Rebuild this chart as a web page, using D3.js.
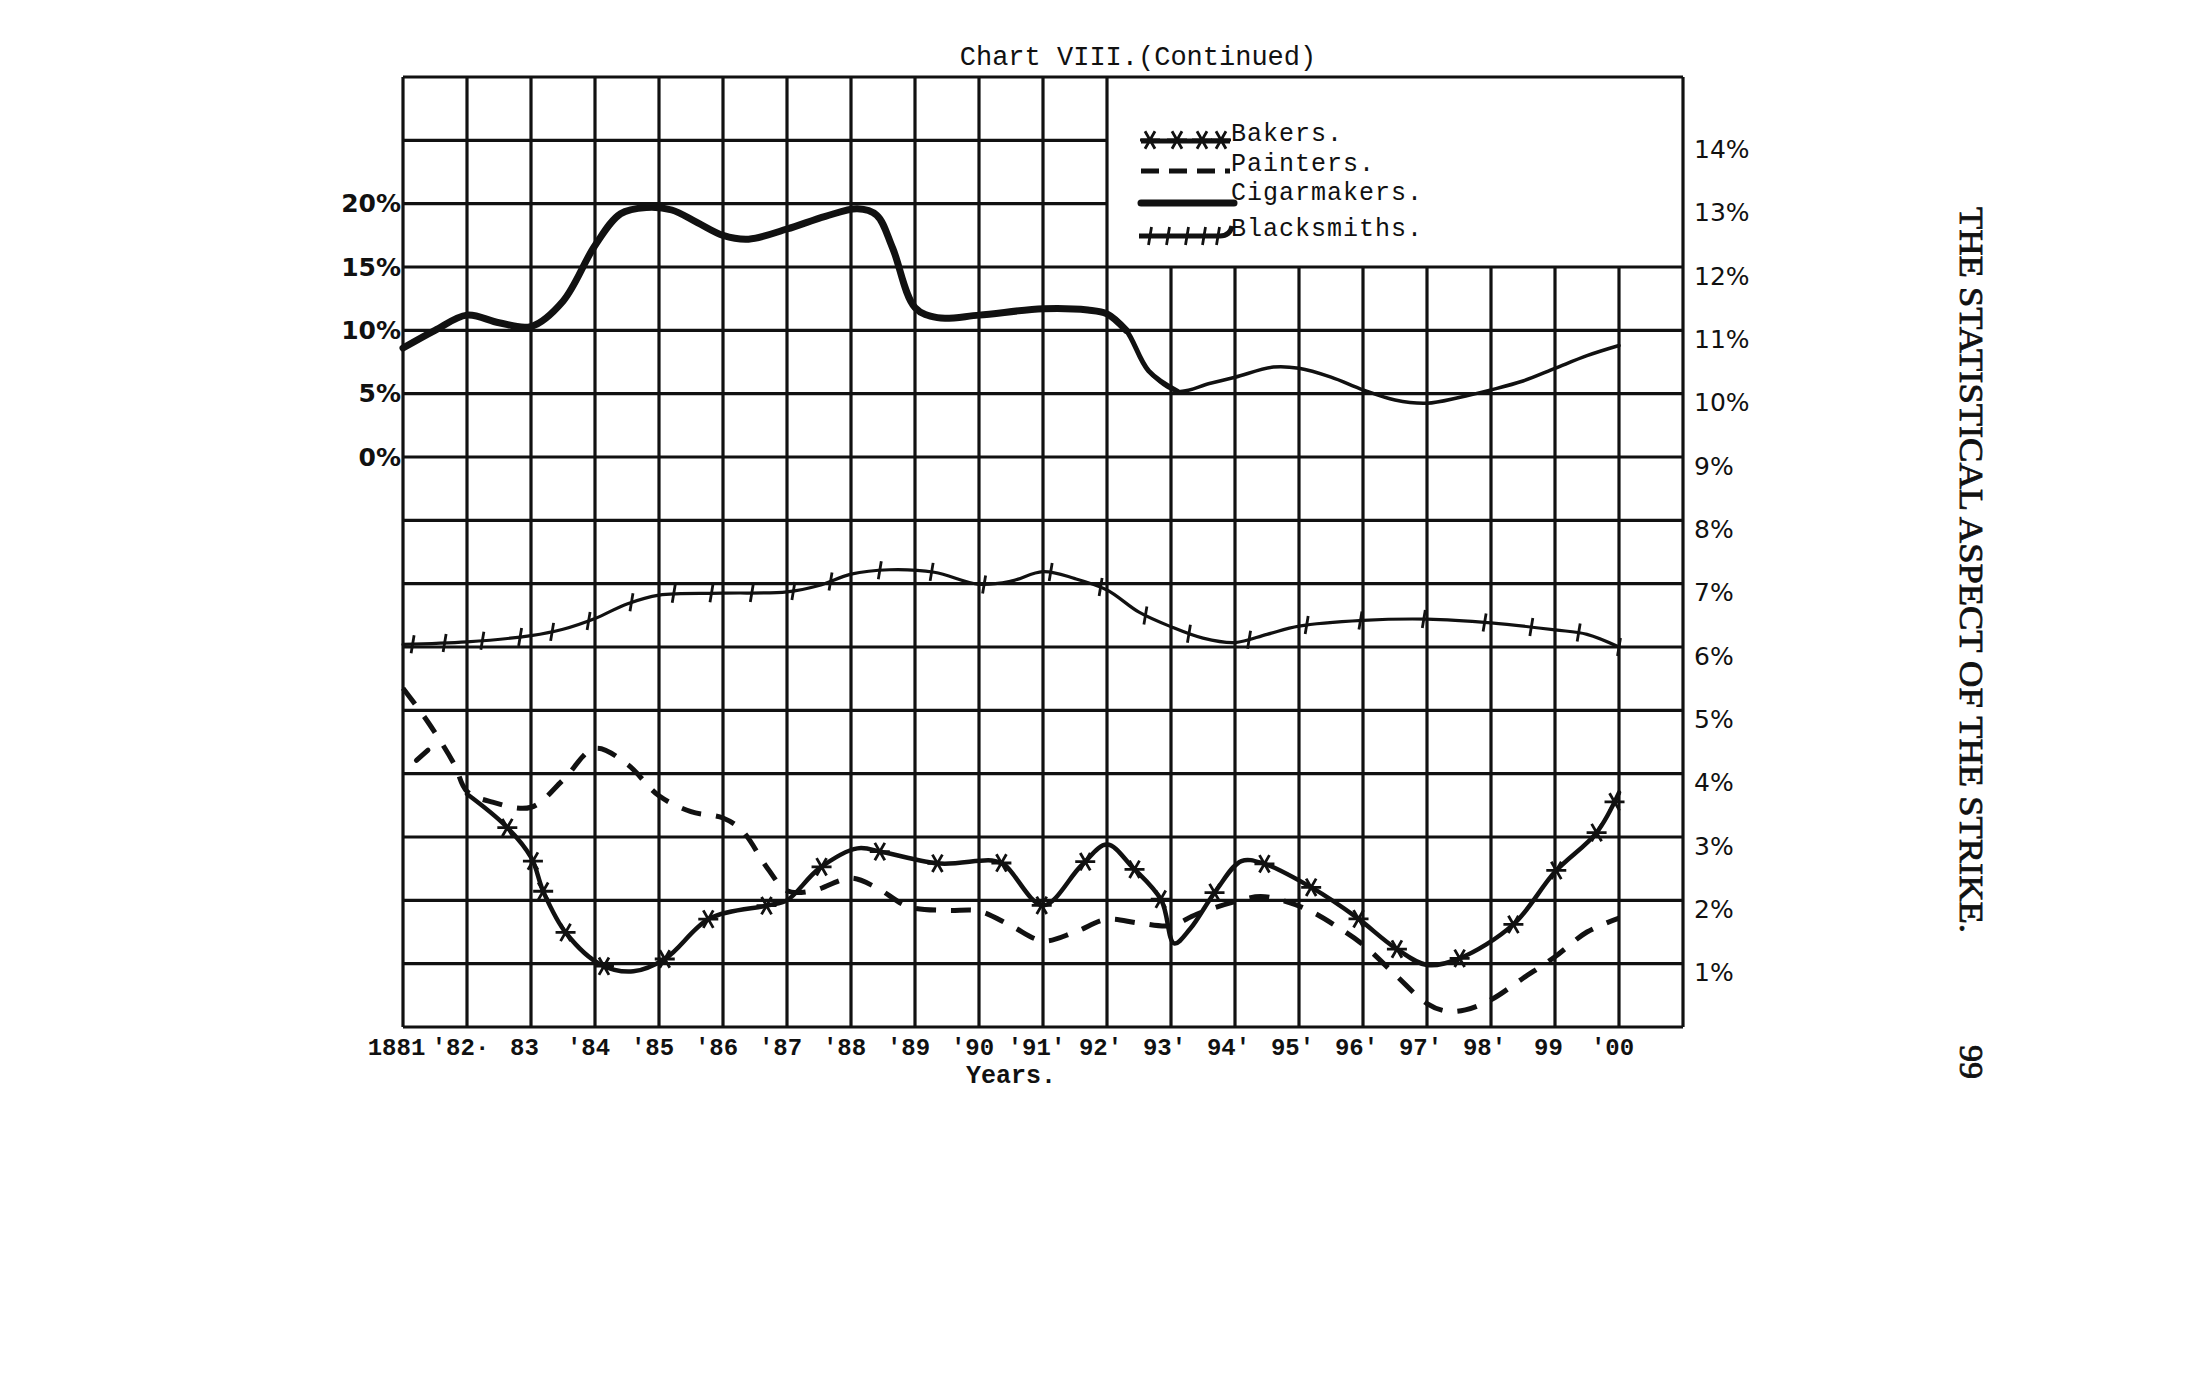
<!DOCTYPE html>
<html>
<head>
<meta charset="utf-8">
<script src="https://cdn.jsdelivr.net/npm/d3@7"></script>
<style>
  body { margin: 0; background: #fff; }
  svg { display: block; }
</style>
</head>
<body>
<svg id="chart" width="2190" height="1380"></svg>
<script>
// Chart VIII (continued) - strikes by trade, 1881-1900

const years = d3.range(1881, 1901);
const yearLabels = ["1881", "'82·", "83", "'84", "'85", "'86", "'87", "'88", "'89", "'90",
    "'91'", "92'", "93'", "94'", "95'", "96'", "97'", "98'", "99", "'00"];
const rightTicks = d3.range(1, 15);
const leftTicks = [0, 5, 10, 15, 20];
const legendNames = ["Bakers.", "Painters.", "Cigarmakers.", "Blacksmiths."];

// [year, percent] on the right hand scale
const bakers = [
    [1882, 3.68], [1882.6, 3.18], [1883, 2.68], [1883.2, 2.12], [1883.55, 1.48], [1884.1, 0.98],
    [1884.6, 0.88], [1885.1, 1.08], [1885.8, 1.72], [1886.7, 1.92], [1887, 2.0], [1887.5, 2.5],
    [1888.1, 2.82], [1888.5, 2.76], [1889.4, 2.58], [1890.2, 2.63], [1890.4, 2.56], [1891, 1.92],
    [1891.6, 2.55], [1892, 2.88], [1892.4, 2.52], [1892.85, 2.0], [1893.05, 1.32], [1893.3, 1.55],
    [1893.7, 2.15], [1894.1, 2.62], [1894.45, 2.58], [1895.2, 2.2], [1895.9, 1.73], [1896.5, 1.25],
    [1897, 0.98], [1897.5, 1.08], [1898.35, 1.62], [1899, 2.45], [1899.65, 3.07], [1900, 3.7]
];
const bakersMarks = [1882.63, 1883.03, 1883.19, 1883.54, 1884.14, 1885.09, 1885.77, 1886.68,
    1887.54, 1888.45, 1889.35, 1890.35, 1890.98, 1891.66, 1892.43, 1892.84, 1893.68, 1894.46,
    1895.19, 1895.93, 1896.53, 1897.51, 1898.35, 1899.02, 1899.65, 1899.93];

const painters = [
    [1881, 5.35], [1881.4, 4.8], [1881.8, 4.15], [1882, 3.72], [1882.4, 3.55], [1883, 3.47],
    [1883.5, 3.9], [1884, 4.4], [1884.5, 4.15], [1885, 3.65], [1885.5, 3.4], [1886, 3.3],
    [1886.3, 3.1], [1886.7, 2.5], [1887, 2.15], [1887.4, 2.15], [1888, 2.35], [1888.4, 2.2],
    [1888.9, 1.9], [1889.5, 1.84], [1890, 1.83], [1890.5, 1.6], [1891, 1.36], [1891.5, 1.5],
    [1892, 1.7], [1892.5, 1.64], [1893, 1.6], [1893.4, 1.78], [1894, 1.98], [1894.4, 2.06],
    [1894.8, 1.98], [1895.2, 1.82], [1895.6, 1.58], [1896, 1.3], [1896.5, 0.83], [1897, 0.37],
    [1897.3, 0.25], [1897.6, 0.27], [1898, 0.43], [1898.5, 0.77], [1899, 1.11], [1899.5, 1.5],
    [1900, 1.72]
];
const paintersStub = [[1881.21, 4.21], [1881.39, 4.37]];

// cigarmakers read on the left hand scale (percent)
const cigarmakers = [
    [1881, 8.6], [1881.5, 10.0], [1882, 11.2], [1882.5, 10.6], [1883, 10.3], [1883.5, 12.3],
    [1884, 16.7], [1884.4, 19.2], [1884.8, 19.7], [1885.2, 19.5], [1885.6, 18.5], [1886, 17.5],
    [1886.4, 17.2], [1887, 18.0], [1887.6, 19.0], [1888.1, 19.6], [1888.4, 19.1], [1888.65, 16.5],
    [1889, 11.8], [1889.35, 11.0], [1890, 11.2], [1891, 11.7], [1891.7, 11.6], [1892, 11.3],
    [1892.3, 10.0], [1892.65, 6.8], [1893.1, 5.2], [1893.6, 5.8], [1894, 6.3], [1894.6, 7.1],
    [1895, 7.0], [1895.5, 6.3], [1896, 5.3], [1896.5, 4.5], [1897, 4.25], [1897.5, 4.7],
    [1898, 5.3], [1898.5, 6.0], [1899, 7.0], [1899.5, 8.0], [1900, 8.8]
];

const blacksmiths = [
    [1881, 6.04], [1882, 6.08], [1883, 6.18], [1883.5, 6.28], [1884, 6.45], [1884.5, 6.68],
    [1885, 6.82], [1886, 6.85], [1887, 6.87], [1887.5, 6.97], [1888, 7.15], [1888.6, 7.22],
    [1889.3, 7.18], [1890, 6.99], [1890.5, 7.04], [1891, 7.19], [1891.5, 7.08], [1892, 6.9],
    [1892.5, 6.55], [1893, 6.32], [1893.5, 6.14], [1894, 6.07], [1894.5, 6.2], [1895, 6.33],
    [1896, 6.42], [1897, 6.44], [1898, 6.38], [1899, 6.27], [1899.5, 6.2], [1900, 6.0]
];
const blacksmithMarks = [1881.15, 1881.65, 1882.24, 1882.83, 1883.33, 1883.9, 1884.57, 1885.23,
    1885.82, 1886.45, 1887.1, 1887.68, 1888.45, 1889.26, 1890.08, 1891.12, 1891.9, 1892.6,
    1893.28, 1894.22, 1895.12, 1895.96, 1896.95, 1897.9, 1898.63, 1899.37, 1900.0];

const ink = "#111";
const mono = "'Liberation Mono', 'DejaVu Sans Mono', monospace";

const svg = d3.select("#chart");

const x = d3.scaleLinear().domain([1881, 1901]).range([403, 1683]);
const y = d3.scaleLinear().domain([0, 15]).range([1027, 77]);
// left scale: 0% sits on the 9% line, one square = 5%
const yLeft = d3.scaleLinear().domain([-45, 30]).range([1027, 77]);

// grid, with the legend corner left blank
const grid = svg.append("g").attr("stroke", ink).attr("stroke-width", 3.2);

grid.selectAll(".v")
    .data(d3.range(1881, 1902))
    .enter()
    .append("line")
    .attr("x1", d => x(d))
    .attr("x2", d => x(d))
    .attr("y1", d => (d > 1892 && d < 1901) ? y(12) : y(15))
    .attr("y2", y(0));

grid.selectAll(".h")
    .data(d3.range(0, 16))
    .enter()
    .append("line")
    .attr("x1", x(1881))
    .attr("x2", d => (d === 13 || d === 14) ? x(1892) : x(1901))
    .attr("y1", d => y(d))
    .attr("y2", d => y(d));

// axes
const bottomAxis = svg.append("g")
    .attr("transform", `translate(-7,${y(0) + 8})`)
    .call(d3.axisBottom(x).tickValues(years).tickSize(0).tickFormat((d, i) => yearLabels[i]));
bottomAxis.select(".domain").remove();
bottomAxis.selectAll("text")
    .style("font-family", mono)
    .style("font-size", "24px")
    .style("font-weight", "bold")
    .attr("fill", ink);

svg.append("text")
    .attr("x", x(1890.5))
    .attr("y", 1083)
    .attr("text-anchor", "middle")
    .style("font-family", mono)
    .style("font-size", "25px")
    .style("font-weight", "bold")
    .attr("fill", ink)
    .text("Years.");

const rightAxis = svg.append("g")
    .attr("transform", `translate(${x(1901) + 8},9)`)
    .call(d3.axisRight(y).tickValues(rightTicks).tickSize(0).tickFormat(d => d + "%"));
rightAxis.select(".domain").remove();
rightAxis.selectAll("text")
    .style("font-family", "'DejaVu Sans', sans-serif")
    .style("font-size", "25px")
    .attr("fill", ink);

const leftAxis = svg.append("g")
    .attr("transform", `translate(${x(1881) + 1},0)`)
    .call(d3.axisLeft(yLeft).tickValues(leftTicks).tickSize(0).tickFormat(d => d + "%"));
leftAxis.select(".domain").remove();
leftAxis.selectAll("text")
    .style("font-family", "'DejaVu Sans', sans-serif")
    .style("font-size", "25px")
    .style("font-weight", "bold")
    .attr("fill", ink);

// lines
const smooth = d3.curveCatmullRom.alpha(0.5);
const line = d3.line().x(d => x(d[0])).y(d => y(d[1])).curve(smooth);
const lineLeft = d3.line().x(d => x(d[0])).y(d => yLeft(d[1])).curve(smooth);

const lines = svg.append("g").attr("fill", "none").attr("stroke", ink)
    .attr("stroke-linecap", "round").attr("stroke-linejoin", "round");

// the pen gets lighter after 1892
lines.append("path")
    .datum(cigarmakers)
    .attr("stroke-width", 3.5)
    .attr("d", lineLeft);
lines.append("path")
    .datum(cigarmakers.filter(d => d[0] <= 1893.1))
    .attr("stroke-width", 5)
    .attr("d", lineLeft);
lines.append("path")
    .datum(cigarmakers.filter(d => d[0] <= 1892.3))
    .attr("stroke-width", 7)
    .attr("d", lineLeft);

lines.append("path")
    .datum(painters)
    .attr("stroke-width", 5)
    .attr("stroke-dasharray", "20 15")
    .attr("stroke-linecap", "butt")
    .attr("d", line);
lines.append("path")
    .datum(paintersStub)
    .attr("stroke-width", 5)
    .attr("d", line);

const bakersPath = lines.append("path")
    .datum(bakers)
    .attr("stroke-width", 4.5)
    .attr("d", line);

const blackPath = lines.append("path")
    .datum(blacksmiths)
    .attr("stroke-width", 3.2)
    .attr("d", line);

// find the point of a path at a given x
const pointAt = (node, px) => {
    let lo = 0, hi = node.getTotalLength();
    for (let i = 0; i < 40; i++) {
        const mid = (lo + hi) / 2;
        if (node.getPointAtLength(mid).x < px) lo = mid; else hi = mid;
    }
    return node.getPointAtLength((lo + hi) / 2);
};

const star = "M-10,0L10,0M-5,-8.7L5,8.7M-5,8.7L5,-8.7";
const tick = "M1.5,-9L-1.5,9";

svg.append("g").attr("stroke", ink).attr("stroke-width", 2.8).attr("fill", "none")
    .selectAll("path")
    .data(bakersMarks)
    .enter()
    .append("path")
    .attr("d", star)
    .attr("transform", d => {
        const p = pointAt(bakersPath.node(), x(d));
        return `translate(${p.x},${p.y})`;
    });

svg.append("g").attr("stroke", ink).attr("stroke-width", 2.8).attr("fill", "none")
    .selectAll("path")
    .data(blacksmithMarks)
    .enter()
    .append("path")
    .attr("d", tick)
    .attr("transform", d => {
        const p = pointAt(blackPath.node(), x(d));
        return `translate(${p.x},${p.y})`;
    });

// legend
const legend = svg.append("g");
const legendY = [141, 171, 203, 236];
const sx0 = 1141, sx1 = 1230;

legend.selectAll("text")
    .data(legendNames)
    .enter()
    .append("text")
    .attr("x", 1231)
    .attr("y", (d, i) => legendY[i] + (i === 2 ? -3 : 0))
    .style("font-family", mono)
    .style("font-size", "25px")
    .style("letter-spacing", "1px")
    .attr("fill", ink)
    .text(d => d);

legend.append("line").attr("x1", sx0).attr("x2", sx1).attr("y1", legendY[0]).attr("y2", legendY[0])
    .attr("stroke", ink).attr("stroke-width", 5);
legend.selectAll(".ls")
    .data([1150, 1177, 1202, 1221])
    .enter()
    .append("path")
    .attr("d", star)
    .attr("transform", d => `translate(${d},${legendY[0] - 1})`)
    .attr("stroke", ink).attr("stroke-width", 2.8);

legend.append("line").attr("x1", sx0).attr("x2", sx1).attr("y1", legendY[1]).attr("y2", legendY[1])
    .attr("stroke", ink).attr("stroke-width", 5).attr("stroke-dasharray", "18 10");

legend.append("line").attr("x1", sx0).attr("x2", sx1 + 4).attr("y1", legendY[2]).attr("y2", legendY[2])
    .attr("stroke", ink).attr("stroke-width", 7).attr("stroke-linecap", "round");

legend.append("path")
    .attr("d", `M${sx0 - 2},${legendY[3]}L${sx1 - 10},${legendY[3]}Q${sx1},${legendY[3]} ${sx1 + 2},${legendY[3] - 10}`)
    .attr("fill", "none").attr("stroke", ink).attr("stroke-width", 5);
legend.selectAll(".lt")
    .data([1150, 1168, 1187, 1204, 1218])
    .enter()
    .append("path")
    .attr("d", tick)
    .attr("transform", d => `translate(${d},${legendY[3]})`)
    .attr("stroke", ink).attr("stroke-width", 2.8);

// title
svg.append("text")
    .attr("x", 1138)
    .attr("y", 65)
    .attr("text-anchor", "middle")
    .style("font-family", mono)
    .style("font-size", "27px")
    .attr("fill", ink)
    .text("Chart VIII.(Continued)");

// running head of the book page, turned on its side
svg.append("text")
    .attr("transform", "translate(1960,207) rotate(90)")
    .attr("textLength", 726)
    .attr("lengthAdjust", "spacingAndGlyphs")
    .style("font-family", "'Liberation Serif', 'DejaVu Serif', serif")
    .style("font-size", "34px")
    .attr("fill", ink)
    .attr("stroke", ink)
    .attr("stroke-width", 0.8)
    .text("THE STATISTICAL ASPECT OF THE STRIKE.");

svg.append("text")
    .attr("transform", "translate(1960,1045) rotate(90)")
    .style("font-family", "'Liberation Serif', 'DejaVu Serif', serif")
    .style("font-size", "34px")
    .attr("fill", ink)
    .attr("stroke", ink)
    .attr("stroke-width", 0.8)
    .text("99");
</script>
</body>
</html>
